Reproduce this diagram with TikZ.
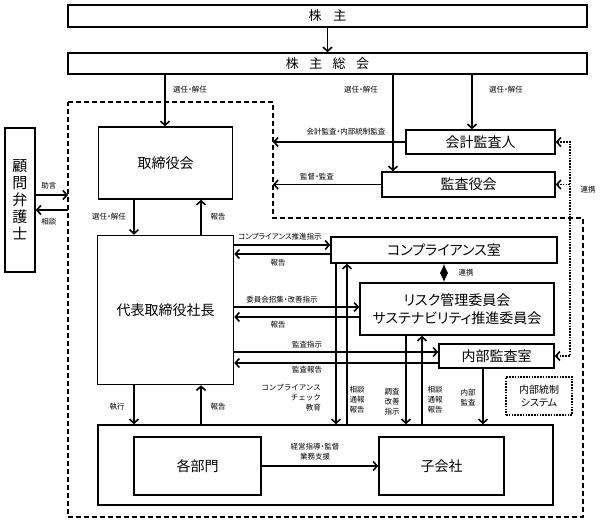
\documentclass[tikz,border=0pt]{standalone}
\usepackage{fontspec}
\setmainfont[RawFeature=+palt]{Noto Sans CJK JP}
\newfontfamily\monojp{Noto Sans CJK JP}
\usetikzlibrary{arrows.meta}

\tikzset{
    box/.style={draw, line width=1.6pt, inner sep=0pt, align=center, font=\fontsize{14}{18}\selectfont},
    lbl/.style={inner sep=0pt, align=center, font=\fontsize{7.5}{10}\selectfont},
    con/.style={line width=1.6pt, -{Straight Barb[length=4pt,width=9pt]}},
    dots/.style={line width=1.6pt, dash pattern=on 1.6pt off 1.2pt},
}

\begin{document}
\begin{tikzpicture}[x=1pt,y=-1pt]
    \useasboundingbox (0,0) rectangle (603,522);

    \node[box, minimum width=519, minimum height=22, font=\fontsize{13}{15}\selectfont] (kabunushi) at (327.5,16) {株\hspace{0.9em}主};
    \node[box, minimum width=519, minimum height=21, font=\fontsize{13}{15}\selectfont] (soukai) at (327.5,63.5) {株\hspace{0.8em}主\hspace{0.8em}総\hspace{0.8em}会};
    \node[box, minimum width=30, minimum height=144, font=\fontsize{15}{17}\selectfont] (komon) at (20,200) {顧\\問\\弁\\護\\士};
    \node[box, minimum width=134, minimum height=72] (torishimari) at (165.5,163) {取締役会};
    \node[box, minimum width=136, minimum height=149] (daihyo) at (165.5,310) {代表取締役社長};
    \node[box, minimum width=149, minimum height=24] (kaikei) at (480.5,142) {会計監査人};
    \node[box, minimum width=173, minimum height=25] (kansayaku) at (468.5,184.5) {監査役会};
    \node[box, minimum width=226, minimum height=26] (comp) at (444,250) {コンプライアンス室};
    \node[box, minimum width=194, minimum height=52] (risk) at (457,309) {リスク管理委員会\\サステナビリティ推進委員会};
    \node[box, minimum width=115, minimum height=24] (naibu) at (496.5,356) {内部監査室};
    \node[box, dots, minimum width=66, minimum height=38, font=\fontsize{10}{13}\selectfont] (tousei) at (539,396) {内部統制\\システム};
    \node[box, minimum width=455, minimum height=80] (group) at (325.5,465) {};
    \node[box, minimum width=127, minimum height=58] (bumon) at (197.5,466) {各部門};
    \node[box, minimum width=125, minimum height=58] (kogaisha) at (441.5,466) {子会社};

    \coordinate (govtl) at (68,102);
    \coordinate (govin) at (273,218);
    \coordinate (rk) at (570,0);
    \draw[line width=1.6pt, dash pattern=on 5pt off 3pt]
    (govtl) -- (govin |- govtl) -- (govin) -- (583,218) -- (583,517) -- (govtl |- 0,517) -- cycle;

    \draw[con] (kabunushi) -- (soukai);
    \draw[con] (165,0 |- soukai.south) -- (165,0 |- torishimari.north);
    \draw[con] (393,0 |- soukai.south) -- (393,0 |- kansayaku.north);
    \draw[con] (472,0 |- soukai.south) -- (472,0 |- kaikei.north);
    \draw[con] (kaikei.west) -- (kaikei.west -| govin);
    \draw[con] (kansayaku.west) -- (kansayaku.west -| govin);

    \draw[con] (komon.east |- 0,195) -- (govtl |- 0,195);
    \draw[con] (govtl |- 0,210) -- (komon.east |- 0,210);

    \draw[con] (134,0 |- torishimari.south) -- (134,0 |- daihyo.north);
    \draw[con] (201,0 |- daihyo.north) -- (201,0 |- torishimari.south);
    \draw[con] (134,0 |- daihyo.south) -- (134,0 |- group.north);
    \draw[con] (201,0 |- group.north) -- (201,0 |- daihyo.south);

    \draw[con] (daihyo.east |- 0,245) -- (comp.west |- 0,245);
    \draw[con] (comp.west |- 0,254) -- (daihyo.east |- 0,254);
    \draw[con] (daihyo.east |- 0,307) -- (risk.west |- 0,307);
    \draw[con] (risk.west |- 0,317) -- (daihyo.east |- 0,317);
    \draw[con] (daihyo.east |- 0,352) -- (naibu.west |- 0,352);
    \draw[con] (naibu.west |- 0,363) -- (daihyo.east |- 0,363);

    \draw[con] (336,0 |- comp.south) -- (336,0 |- group.north);
    \draw[con] (347,0 |- group.north) -- (347,0 |- comp.south);
    \draw[con] (406,0 |- risk.south) -- (406,0 |- group.north);
    \draw[con] (422,0 |- group.north) -- (422,0 |- risk.south);
    \draw[con] (483,0 |- naibu.south) -- (483,0 |- group.north);

    \draw[line width=1.2pt, {Latex[length=9pt,width=8pt]}-{Latex[length=9pt,width=8pt]}] (comp.south) -- (comp.south |- risk.north);

    \draw[dots, {Straight Barb[length=4pt,width=9pt]}-{Straight Barb[length=4pt,width=9pt]}]
    (kaikei.east) -- (kaikei.east -| rk) -- (naibu.east -| rk) -- (naibu.east);
    \draw[dots, -{Straight Barb[length=4pt,width=9pt]}] (kansayaku.east -| rk) -- (kansayaku.east);

    \draw[con] (bumon) -- (kogaisha);

    \node[lbl] (l1) at (190,90) {選任・解任};
    \node[lbl] (l2) at (361,90) {選任・解任};
    \node[lbl] (l3) at (506,90) {選任・解任};
    \node[lbl] (l4) at (346,132) {会計監査・内部統制監査};
    \node[lbl] (l5) at (317,177) {監督・監査};
    \node[lbl] (l6) at (588,190) {連携};
    \node[lbl] (l7) at (49,186) {助言};
    \node[lbl] (l8) at (49,222) {相談};
    \node[lbl] (l9) at (109,217) {選任・解任};
    \node[lbl] (l10) at (218,217) {報告};
    \node[lbl] (l11) at (280,237) {コンプライアンス推進指示};
    \node[lbl] (l12) at (278,263) {報告};
    \node[lbl] (l13) at (282,300) {委員会招集・改善指示};
    \node[lbl] (l14) at (278,325) {報告};
    \node[lbl] (l15) at (307,345) {監査指示};
    \node[lbl] (l16) at (307,370) {監査報告};
    \node[lbl] (l17) at (466,273) {連携};
    \node[lbl] (l18) at (117,407) {執行};
    \node[lbl] (l19) at (218,407) {報告};
    \node[lbl, align=right, anchor=east, font=\monojp\fontsize{7.5}{10}\selectfont] (l20) at (321,398) {コンプライアンス\\チェック\\教育};
    \node[lbl] (l21) at (357,400) {相談\\通報\\報告};
    \node[lbl] (l22) at (392,402) {調査\\改善\\指示};
    \node[lbl] (l23) at (435,400) {相談\\通報\\報告};
    \node[lbl] (l24) at (468,398) {内部\\監査};
    \node[lbl] (l25) at (315,452) {経営指導・監督\\業務支援};
\end{tikzpicture}
\end{document}
